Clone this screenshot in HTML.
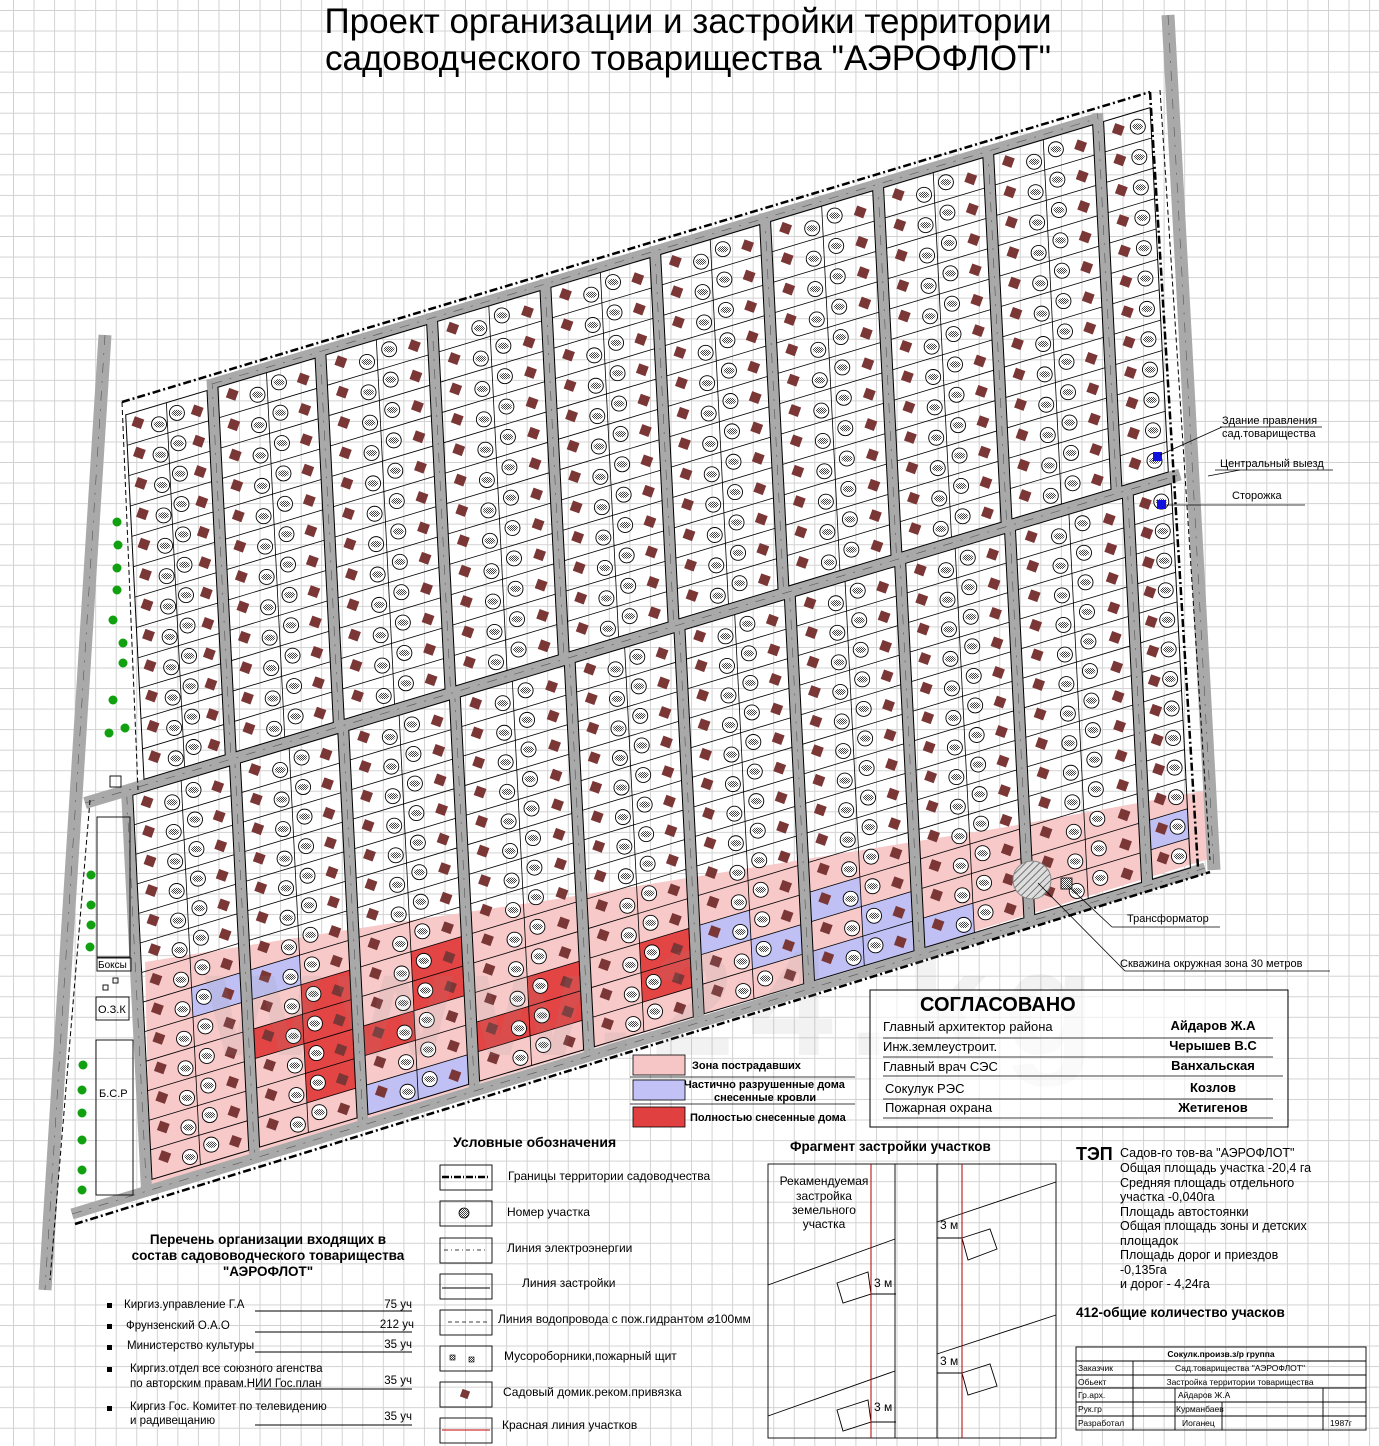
<!DOCTYPE html>
<html><head><meta charset="utf-8">
<style>
html,body{margin:0;padding:0;}
body{width:1379px;height:1446px;overflow:hidden;background-color:#fff;
background-image:linear-gradient(to right,#d2d2d2 1px,transparent 1px),linear-gradient(to bottom,#d2d2d2 1px,transparent 1px);
background-size:20.55px 20.55px;background-position:13px 10px;}
svg{position:absolute;left:0;top:0;}
text{font-family:"Liberation Sans",Arial,sans-serif;fill:#000;}
.b{font-weight:bold;}
</style></head><body>
<svg id="s" width="1379" height="1446" viewBox="0 0 1379 1446" xmlns="http://www.w3.org/2000/svg">
<defs>
<pattern id="h" width="2" height="2" patternUnits="userSpaceOnUse"><rect width="2" height="2" fill="#fff"/><rect width="1" height="1" fill="#444"/><rect x="1" y="1" width="1" height="1" fill="#444"/></pattern>
<pattern id="hh" width="5" height="5" patternUnits="userSpaceOnUse" patternTransform="rotate(45)"><rect width="5" height="5" fill="#ddd"/><line x1="0" y1="0" x2="0" y2="5" stroke="#333" stroke-width="1.2"/></pattern>
</defs>
<g id="zones"></g>
<g id="roads"></g>
<g id="lots"></g>
<g id="icons"></g>
<!-- watermark -->
<text x="205" y="1055" font-size="150" class="b" style="fill:rgba(150,150,150,0.12)" textLength="890">www.24.kg</text>

<!-- title -->
<text x="688" y="33" font-size="35" text-anchor="middle" textLength="727">Проект организации и застройки территории</text>
<text x="688" y="70" font-size="35" text-anchor="middle" textLength="726">садоводческого товарищества "АЭРОФЛОТ"</text>

<!-- right labels -->
<rect x="1153" y="452" width="9" height="9" fill="#1010e0"/>
<rect x="1157" y="500" width="9" height="9" fill="#1010e0"/>
<line x1="1160" y1="455" x2="1222" y2="427" stroke="#000" stroke-width="0.8"/>
<line x1="1220" y1="427" x2="1322" y2="427" stroke="#000" stroke-width="0.8"/>
<text x="1222" y="424" font-size="11">Здание правления</text>
<text x="1222" y="437" font-size="11">сад.товарищества</text>
<line x1="1208" y1="476" x2="1240" y2="470" stroke="#000" stroke-width="0.8"/>
<line x1="1215" y1="470" x2="1333" y2="470" stroke="#000" stroke-width="0.8"/>
<text x="1220" y="467" font-size="11">Центральный выезд</text>
<line x1="1166" y1="505" x2="1305" y2="505" stroke="#000" stroke-width="0.8"/>
<text x="1232" y="499" font-size="11">Сторожка</text>
<circle cx="1032" cy="880" r="19" fill="url(#hh)" stroke="#888"/>
<rect x="1061" y="878" width="11" height="11" fill="url(#h)" stroke="#000" stroke-width="0.8"/>
<line x1="1067" y1="885" x2="1112" y2="927" stroke="#000" stroke-width="0.8"/>
<line x1="1112" y1="927" x2="1220" y2="927" stroke="#000" stroke-width="0.8"/>
<text x="1127" y="922" font-size="11">Трансформатор</text>
<line x1="1038" y1="883" x2="1125" y2="971" stroke="#000" stroke-width="0.8"/>
<line x1="1125" y1="971" x2="1330" y2="971" stroke="#000" stroke-width="0.8"/>
<text x="1120" y="967" font-size="11">Скважина окружная зона 30 метров</text>

<!-- zone legend -->
<rect x="633" y="1055" width="52" height="20" fill="#f6c6c6" stroke="#000" stroke-width="0.8"/>
<text x="692" y="1069" font-size="11" class="b">Зона пострадавших</text>
<line x1="630" y1="1077" x2="855" y2="1077" stroke="#000" stroke-width="0.8"/>
<rect x="633" y="1080" width="52" height="20" fill="#c2c2f6" stroke="#000" stroke-width="0.8"/>
<text x="684" y="1088" font-size="11" class="b">Частично разрушенные дома</text>
<text x="714" y="1101" font-size="11" class="b">снесенные кровли</text>
<line x1="630" y1="1104" x2="855" y2="1104" stroke="#000" stroke-width="0.8"/>
<rect x="633" y="1107" width="52" height="20" fill="#e04040" stroke="#000" stroke-width="0.8"/>
<text x="690" y="1121" font-size="11" class="b">Полностью снесенные дома</text>

<!-- СОГЛАСОВАНО -->
<rect x="870" y="990" width="418" height="137" fill="#fff" fill-opacity="0.6" stroke="#000" stroke-width="1"/>
<text x="920" y="1011" font-size="20" class="b">СОГЛАСОВАНО</text>
<g font-size="13">
<text x="883" y="1031">Главный архитектор района</text>
<text x="883" y="1051">Инж.землеустроит.</text>
<text x="883" y="1071">Главный врач СЭС</text>
<text x="885" y="1093">Сокулук РЭС</text>
<text x="885" y="1112">Пожарная охрана</text>
<text x="1213" y="1030" text-anchor="middle" class="b">Айдаров Ж.А</text>
<text x="1213" y="1050" text-anchor="middle" class="b">Черышев В.С</text>
<text x="1213" y="1070" text-anchor="middle" class="b">Ванхальская</text>
<text x="1213" y="1092" text-anchor="middle" class="b">Козлов</text>
<text x="1213" y="1112" text-anchor="middle" class="b">Жетигенов</text>
</g>
<g stroke="#000" stroke-width="0.8">
<line x1="883" y1="1038" x2="1273" y2="1038"/><line x1="883" y1="1057" x2="1273" y2="1057"/>
<line x1="883" y1="1076" x2="1283" y2="1076"/><line x1="883" y1="1099" x2="1273" y2="1099"/>
<line x1="883" y1="1118" x2="1273" y2="1118"/></g>

<!-- Условные обозначения -->
<text x="453" y="1147" font-size="14" class="b">Условные обозначения</text>
<g fill="none" stroke="#000" stroke-width="0.9">
<rect x="440" y="1165" width="52" height="25"/><rect x="440" y="1201" width="52" height="25"/>
<rect x="440" y="1238" width="52" height="25"/><rect x="440" y="1274" width="52" height="25"/>
<rect x="440" y="1310" width="52" height="25"/><rect x="440" y="1346" width="52" height="25"/>
<rect x="440" y="1382" width="52" height="25"/><rect x="440" y="1418" width="52" height="25"/>
<line x1="442" y1="1177" x2="490" y2="1177" stroke-width="2.5" stroke-dasharray="7,2,1,2"/>
<line x1="444" y1="1250" x2="488" y2="1250" stroke-width="0.7" stroke-dasharray="4,3,1,3"/>
<line x1="442" y1="1288" x2="490" y2="1288"/>
<line x1="448" y1="1322" x2="490" y2="1322" stroke-dasharray="4,3" stroke-width="0.7"/>
<line x1="442" y1="1430" x2="490" y2="1430" stroke="#c00000"/>
</g>
<circle cx="464" cy="1213" r="5" fill="url(#h)" stroke="#000" stroke-width="0.8"/>
<rect x="450" y="1355" width="5" height="5" fill="url(#h)" stroke="#000" stroke-width="0.6"/>
<rect x="469" y="1357" width="5" height="5" fill="url(#h)" stroke="#000" stroke-width="0.6"/>
<rect x="461" y="1390" width="8" height="8" fill="#7a3a3a" transform="rotate(20 465 1394)"/>
<g font-size="12">
<text x="508" y="1180">Границы территории садоводчества</text>
<text x="507" y="1216">Номер участка</text>
<text x="507" y="1252">Линия электроэнергии</text>
<text x="522" y="1287">Линия застройки</text>
<text x="498" y="1323">Линия водопровода с пож.гидрантом ⌀100мм</text>
<text x="504" y="1360">Мусороборники,пожарный щит</text>
<text x="503" y="1396">Садовый домик.реком.привязка</text>
<text x="502" y="1429">Красная линия участков</text>
</g>

<!-- Фрагмент -->
<text x="790" y="1151" font-size="13.5" class="b">Фрагмент застройки участков</text>
<g fill="none" stroke="#000" stroke-width="0.9">
<rect x="768" y="1164" width="288" height="274"/>
<line x1="895" y1="1164" x2="895" y2="1438"/><line x1="937" y1="1164" x2="937" y2="1438"/>
<line x1="768" y1="1285" x2="895" y2="1239"/><line x1="768" y1="1416" x2="895" y2="1371"/>
<line x1="937" y1="1222" x2="1056" y2="1182"/><line x1="937" y1="1354" x2="1056" y2="1315"/>
<line x1="871" y1="1294" x2="896" y2="1294"/><line x1="871" y1="1422" x2="896" y2="1422"/>
<line x1="937" y1="1238" x2="962" y2="1238"/><line x1="937" y1="1373" x2="962" y2="1373"/>
<polygon points="837,1283 868,1272 871,1294 843,1303"/>
<polygon points="837,1410 868,1400 871,1422 843,1431"/>
<polygon points="962,1238 990,1229 997,1249 968,1260"/>
<polygon points="962,1373 990,1364 997,1386 968,1395"/>
</g>
<line x1="871" y1="1164" x2="871" y2="1438" stroke="#b00000"/>
<line x1="962" y1="1164" x2="962" y2="1438" stroke="#b00000"/>
<g font-size="12" text-anchor="middle"><text x="824" y="1185">Рекамендуемая</text><text x="824" y="1200">застройка</text><text x="824" y="1214">земельного</text><text x="824" y="1228">участка</text></g>
<g font-size="12"><text x="874" y="1287">3 м</text><text x="874" y="1411">3 м</text><text x="940" y="1229">3 м</text><text x="940" y="1365">3 м</text></g>

<!-- ТЭП -->
<text x="1076" y="1160" font-size="18" class="b">ТЭП</text>
<g font-size="12.5">
<text x="1120" y="1157">Садов-го тов-ва "АЭРОФЛОТ"</text>
<text x="1120" y="1172">Общая площадь участка -20,4 га</text>
<text x="1120" y="1187">Средняя площадь отдельного</text>
<text x="1120" y="1201">участка -0,040га</text>
<text x="1120" y="1216">Площадь автостоянки</text>
<text x="1120" y="1230">Общая площадь зоны и детских</text>
<text x="1120" y="1245">площадок</text>
<text x="1120" y="1259">Площадь дорог и приездов</text>
<text x="1120" y="1274"> -0,135га</text>
<text x="1120" y="1288">и дорог - 4,24га</text>
</g>
<text x="1076" y="1317" font-size="13.5" class="b">412-общие количество учасков</text>

<!-- title block -->
<g fill="none" stroke="#000" stroke-width="0.9">
<rect x="1076" y="1347" width="290" height="83"/>
<line x1="1076" y1="1361" x2="1366" y2="1361"/><line x1="1076" y1="1375" x2="1366" y2="1375"/>
<line x1="1076" y1="1388" x2="1366" y2="1388"/><line x1="1076" y1="1402" x2="1366" y2="1402"/>
<line x1="1076" y1="1416" x2="1366" y2="1416"/>
<line x1="1133" y1="1361" x2="1133" y2="1430"/><line x1="1175" y1="1388" x2="1175" y2="1430"/>
<line x1="1222" y1="1402" x2="1222" y2="1430"/><line x1="1323" y1="1388" x2="1323" y2="1430"/>
</g>
<g font-size="8.5">
<text x="1221" y="1357" text-anchor="middle" class="b">Сокулк.произв.з/р группа</text>
<text x="1078" y="1371">Заказчик</text><text x="1240" y="1371" text-anchor="middle">Сад.товарищества "АЭРОФЛОТ"</text>
<text x="1078" y="1385">Обьект</text><text x="1240" y="1385" text-anchor="middle">Застройка территории товарищества</text>
<text x="1078" y="1398">Гр.арх.</text><text x="1178" y="1398">Айдаров Ж.А</text>
<text x="1078" y="1412">Рук.гр</text><text x="1176" y="1412">Курманбаев</text>
<text x="1078" y="1426">Разработал</text><text x="1182" y="1426">Иоганец</text><text x="1330" y="1426">1987г</text>
</g>

<!-- list -->
<g font-size="13.5" class="b" text-anchor="middle">
<text x="268" y="1244">Перечень организации входящих в</text>
<text x="268" y="1260">состав садововодческого товарищества</text>
<text x="268" y="1276">"АЭРОФЛОТ"</text>
</g>
<g font-size="11.5">
<rect x="107" y="1303" width="5" height="5"/><rect x="107" y="1324" width="5" height="5"/><rect x="107" y="1345" width="5" height="5"/>
<rect x="107" y="1367" width="5" height="5"/><rect x="107" y="1406" width="5" height="5"/>
<text x="124" y="1308">Киргиз.управление Г.А</text>
<text x="126" y="1329">Фрунзенский О.А.О</text>
<text x="127" y="1349">Министерство культуры</text>
<text x="130" y="1372">Киргиз.отдел все союзного агенства</text>
<text x="130" y="1387">по авторским правам.НИИ Гос.план</text>
<text x="130" y="1410">Киргиз Гос. Комитет по телевидению</text>
<text x="130" y="1424">и радивещанию</text>
<text x="412" y="1308" text-anchor="end">75 уч</text>
<text x="414" y="1328" text-anchor="end">212 уч</text>
<text x="412" y="1348" text-anchor="end">35 уч</text>
<text x="412" y="1384" text-anchor="end">35 уч</text>
<text x="412" y="1420" text-anchor="end">35 уч</text>
</g>
<g stroke="#000" stroke-width="0.9">
<line x1="255" y1="1311" x2="412" y2="1311"/><line x1="255" y1="1332" x2="412" y2="1332"/>
<line x1="255" y1="1352" x2="412" y2="1352"/><line x1="255" y1="1389" x2="412" y2="1389"/>
<line x1="255" y1="1425" x2="412" y2="1425"/></g>

<!-- left facilities -->
<g fill="none" stroke="#000" stroke-width="0.9">
<rect x="110" y="776" width="11" height="11"/>
<rect x="97" y="817" width="33" height="140"/>
<rect x="97" y="958" width="34" height="13"/>
<rect x="96" y="997" width="33" height="23"/>
<rect x="96" y="1040" width="37" height="155"/>
<rect x="113" y="978" width="5" height="5"/><rect x="103" y="985" width="5" height="5"/>
</g>
<text x="98" y="968" font-size="10">Боксы</text>
<text x="98" y="1013" font-size="11">О.З.К</text>
<text x="99" y="1097" font-size="11">Б.С.Р</text>
<g id="green" fill="#10a010"></g>
</svg>
<script>
var NS="http://www.w3.org/2000/svg";
function el(p,t,a){var e=document.createElementNS(NS,t);for(var k in a)e.setAttribute(k,a[k]);document.getElementById(p).appendChild(e);return e;}
var K=0.05,S=0.3;
function P(x0,c){var x=(x0+K*c)/(1+K*S);return [x,c-S*x];}
function pts(a){return a.map(function(p){return p[0].toFixed(1)+","+p[1].toFixed(1)}).join(" ");}
var U=[193,302.7,416,531,642.5,754,868.7,980.5,1092];
var L=[196.75,306.75,420,536.6,648,760,872,983.5,1103];
var upE=[105].concat(U).concat([1144.7]);
var loE=[93].concat(L).concat([1147]);
var cTop=438.6,cMid=828.5,cBot=1232;
el("zones","polygon",{points:"145,962 250,945 400,922 550,900 700,876 850,852 1000,828 1100,810 1208,790 1212,858 150,1185",fill:"#f7c9c9"});
function cell(sec,i,half,r,col){
 var E=sec?loE:upE, a=E[i]+(i==0?0:5.5), b=E[i+1]-(i==E.length-2?0:5.5), m=(a+b)/2;
 var c0=sec?835:452, st=sec?30:30.8; var c1=c0+st*r,c2=c1+st;
 var x1=half==0?a:m,x2=half==0?m:b; if(half==2){x1=a;x2=b;}
 el("zones","polygon",{points:pts([P(x1,c1),P(x2,c1),P(x2,c2),P(x1,c2)]),fill:col});
}
var R="#e34444",B="#c0c0f4";
[[1,1,1,8],[1,1,1,9],[1,1,1,10],[1,1,1,11],[1,1,0,9],[1,2,0,10],[1,2,1,8],[1,2,1,9],[1,3,1,10],[1,3,1,11],[1,4,1,10],[1,4,1,11],[1,3,0,11]].forEach(function(q){cell(q[0],q[1],q[2],q[3],R);});
[[1,0,1,7],[1,1,0,7],[1,2,2,12],[1,5,0,10],[1,5,1,11],[1,6,0,10],[1,6,1,11],[1,6,2,12],[1,7,0,12],[1,9,2,11]].forEach(function(q){cell(q[0],q[1],q[2],q[3],B);});
function road(p1,p2,w){el("roads","line",{x1:p1[0],y1:p1[1],x2:p2[0],y2:p2[1],stroke:"#a9a9a9","stroke-width":w||11});
 el("roads","line",{x1:p1[0],y1:p1[1],x2:p2[0],y2:p2[1],stroke:"#555","stroke-width":0.6,"stroke-dasharray":"10,8,2,8"});}
U.forEach(function(x0){road(P(x0,cTop+4),P(x0,cMid));});
L.forEach(function(x0){road(P(x0,cMid),P(x0,cBot));});
road(P(87,cMid+4),P(87,cBot));
road(P(U[0],cTop+9),P(U[8],cTop+9));
road([85,cMid-S*85],[1180,cMid-S*1180],12);
road([72,1214],[1205,868],11);
road([105,335],[45,1290],13);
road([1168,15],[1214,870],13);
function bd(a,b){el("roads","line",{x1:a[0],y1:a[1],x2:b[0],y2:b[1],stroke:"#000","stroke-width":2.5,"stroke-dasharray":"8,3,2,3"});}
bd([122,402],[1150,92]);bd([1150,92],[1198,868]);bd([75,1224],[1210,872]);
el("roads","line",{x1:122,y1:402,x2:138,y2:790,stroke:"#000","stroke-width":1,"stroke-dasharray":"5,3"});
el("roads","line",{x1:90,y1:800,x2:50,y2:1280,stroke:"#000","stroke-width":1,"stroke-dasharray":"5,3"});
el("roads","line",{x1:1160,y1:90,x2:1210,y2:860,stroke:"#000","stroke-width":1,"stroke-dasharray":"5,3"});
function strips(E,c0,c1,n,sec){
 var st=(c1-c0)/n;
 for(var i=0;i<E.length-1;i++){
  var a=E[i]+(i==0?0:5.5), b=E[i+1]-(i==E.length-2?0:5.5);
  var narrow=(b-a)<70;
  el("lots","polygon",{points:pts([P(a,c0),P(b,c0),P(b,c1),P(a,c1)]),fill:"none",stroke:"#000","stroke-width":1});
  if(!narrow){var m=(a+b)/2;el("lots","line",{x1:P(m,c0)[0],y1:P(m,c0)[1],x2:P(m,c1)[0],y2:P(m,c1)[1],stroke:"#000","stroke-width":0.8});}
  for(var r=0;r<n;r++){
   var c=c0+st*r;
   if(r>0){var p=P(a,c),q=P(b,c);el("lots","line",{x1:p[0],y1:p[1],x2:q[0],y2:q[1],stroke:"#000","stroke-width":0.8});}
   var mid=c+st/2;
   function at(f,dy){var xa=P(a,mid)[0],xb=P(b,mid)[0];var x=xa+(xb-xa)*f;return [x,mid-S*x+dy];}
   function circ(pp){el("icons","circle",{cx:pp[0],cy:pp[1],r:7.5,fill:"#fff",stroke:"#000","stroke-width":0.9});
     el("icons","ellipse",{cx:pp[0],cy:pp[1],rx:5.5,ry:3.2,fill:"url(#h)"});}
   function sq(pp){el("icons","rect",{x:pp[0]-5,y:pp[1]-5,width:10,height:10,fill:"#7b3636",transform:"rotate(20 "+pp[0]+" "+pp[1]+")"});}
   if(narrow){circ(at(0.72,0));sq(at(0.3,-3));}
   else{sq(at(0.14,-4));circ(at(0.4,4));circ(at(0.62,-2));sq(at(0.87,2));}
  }
 }
}
strips(upE,cTop+14,cMid-6,12,0);
strips(loE,cMid+6.5,cBot-7,13,1);
[[117,522],[118,545],[117,568],[117,590],[113,620],[123,643],[123,663],[113,700],[109,733],[125,728],[91,875],[91,905],[91,925],[90,947],[83,1065],[82,1090],[82,1113],[82,1140],[82,1170],[82,1190]].forEach(function(p){el("green","circle",{cx:p[0],cy:p[1],r:4.5});});
</script>
</body></html>
